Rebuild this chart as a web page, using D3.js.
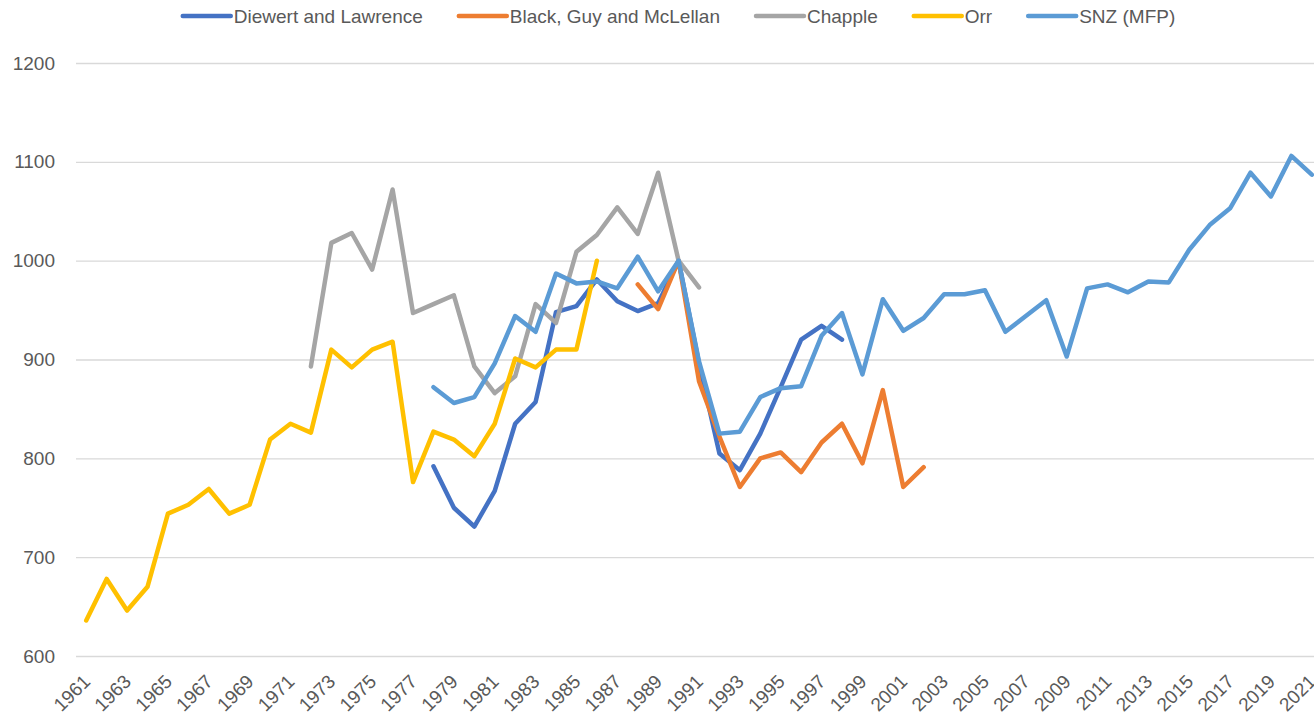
<!DOCTYPE html>
<html>
<head>
<meta charset="utf-8">
<script src="https://cdn.jsdelivr.net/npm/d3@7"></script>
<style>
  body { margin: 0; background: #fff; }
  svg { display: block; font-family: "Liberation Sans", Arial, sans-serif; }
</style>
</head>
<body>
<div class="viz"></div>
<script>
// categories
const years = d3.range(1961, 2022);
const yTicks = [600, 700, 800, 900, 1000, 1100, 1200];

// series values, each starting at its own first year
const diewertStart = 1978;
const diewert = [792, 750, 731, 767, 835, 857, 948, 954, 981, 959, 949, 957, 1000, 896, 805, 788, 825, 872, 920, 934, 920];

const blackStart = 1988;
const black = [976, 951, 1000, 878, 822, 771, 800, 806, 786, 816, 835, 795, 869, 771, 791];

const chappleStart = 1972;
const chapple = [893, 1018, 1028, 991, 1072, 947, 956, 965, 893, 866, 883, 956, 937, 1009, 1026, 1054, 1027, 1089, 1000, 973];

const orrStart = 1961;
const orr = [636, 678, 646, 670, 744, 753, 769, 744, 753, 819, 835, 826, 910, 892, 910, 918, 776, 827, 819, 802, 835, 901, 892, 910, 910, 1000];

const snzStart = 1978;
const snz = [872, 856, 862, 896, 944, 928, 987, 977, 979, 972, 1004, 969, 1000, 898, 825, 827, 862, 871, 873, 924, 947, 885, 961, 929, 942, 966, 966, 970, 928, 944, 960, 903, 972, 976, 968, 979, 978, 1011, 1036, 1053, 1089, 1065, 1106, 1087];

const seriesNames = ["Diewert and Lawrence", "Black, Guy and McLellan", "Chapple", "Orr", "SNZ (MFP)"];
const seriesColors = ["#4472C4", "#ED7D31", "#A5A5A5", "#FFC000", "#5B9BD5"];

const series = [
  {name: seriesNames[0], start: diewertStart, values: diewert},
  {name: seriesNames[1], start: blackStart, values: black},
  {name: seriesNames[2], start: chappleStart, values: chapple},
  {name: seriesNames[3], start: orrStart, values: orr},
  {name: seriesNames[4], start: snzStart, values: snz}
].map((s, i) => ({
  name: s.name,
  color: seriesColors[i],
  points: s.values.map((v, j) => ({year: s.start + j, value: v}))
}));

const width = 1314, height = 716;
// plot runs past the right edge of the picture (the original is cropped)
const margin = ({top: 63, right: -8, bottom: 60, left: 76});
const textColor = "#595959";
const fontSize = 19;

const svg = d3.select('.viz').append('svg')
    .attr('width', width)
    .attr('height', height);

const x = d3.scaleBand()
    .domain(years)
    .range([margin.left, width - margin.right])
    .padding(0);

const y = d3.scaleLinear()
    .domain([600, 1200])
    .range([height - margin.bottom, margin.top]);

const xc = d => x(d) + x.bandwidth() / 2;

// gridlines + y labels
const yAxis = g => g
    .attr("transform", `translate(${margin.left},0)`)
    .call(d3.axisLeft(y)
        .tickValues(yTicks)
        .tickFormat(d3.format("d"))
        .tickSize(-(width - margin.right - margin.left))
        .tickPadding(21))
    .call(g => g.select(".domain").remove())
    .call(g => g.selectAll(".tick line")
        .attr("stroke", "#D9D9D9")
        .attr("stroke-width", 1.3))
    .call(g => g.selectAll(".tick text")
        .attr("fill", textColor)
        .attr("font-size", fontSize)
        .attr("font-family", null));

svg.append("g").call(yAxis);

// rotated year labels every second year
svg.append("g")
  .selectAll("text")
  .data(years.filter((d, i) => i % 2 === 0))
  .join("text")
    .attr("transform", d => `translate(${xc(d) + 0.5},678) rotate(-45)`)
    .attr("text-anchor", "end")
    .attr("dy", "0.35em")
    .attr("fill", textColor)
    .attr("font-size", fontSize)
    .text(d => d);

const line = d3.line()
    .x(d => xc(d.year))
    .y(d => y(d.value));

svg.append("g")
  .selectAll("path")
  .data(series)
  .join("path")
    .attr("fill", "none")
    .attr("stroke", d => d.color)
    .attr("stroke-width", 4.5)
    .attr("stroke-linejoin", "round")
    .attr("stroke-linecap", "round")
    .attr("d", d => line(d.points));

// legend, centred across the top
const legendY = 16;
const legend = svg.append("g");
const items = legend.selectAll("g")
  .data(series)
  .join("g");

items.append("line")
    .attr("x1", 0).attr("x2", 48)
    .attr("y1", legendY).attr("y2", legendY)
    .attr("stroke", d => d.color)
    .attr("stroke-width", 4.5)
    .attr("stroke-linecap", "round");

items.append("text")
    .attr("x", 51)
    .attr("y", legendY)
    .attr("dy", "0.35em")
    .attr("fill", textColor)
    .attr("font-size", fontSize)
    .text(d => d.name);

let pos = 0;
items.each(function() {
  const w = 51 + d3.select(this).select("text").node().getComputedTextLength();
  d3.select(this).attr("transform", `translate(${pos},0)`);
  pos += w + 36;
});
const legendWidth = pos - 36;
legend.attr("transform", `translate(${679 - legendWidth / 2},0)`);
</script>
</body>
</html>
